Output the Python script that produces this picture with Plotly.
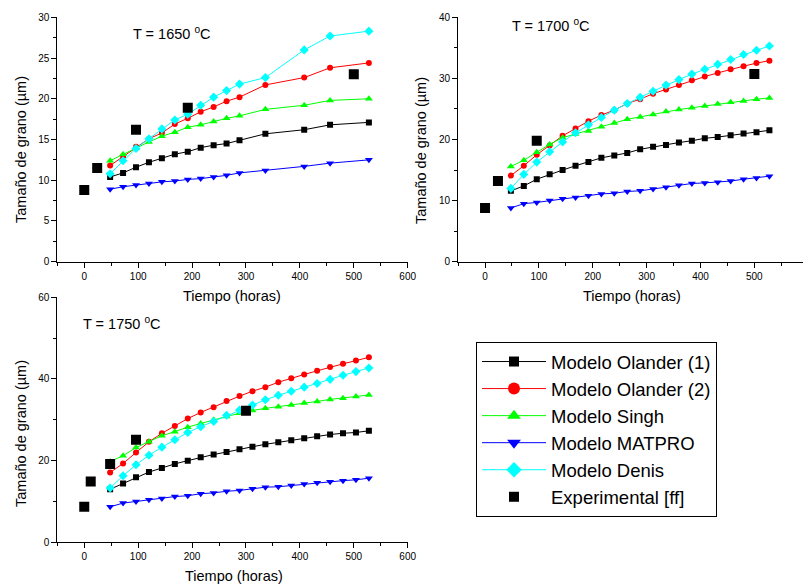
import plotly.graph_objects as go

# ---------------- data ----------------
t_1650 = [48, 72, 96, 120, 144, 168, 192, 216, 240, 264, 288, 336, 408, 456, 528]
olander1_1650 = [10.4, 10.9, 11.6, 12.2, 12.7, 13.2, 13.5, 14.0, 14.3, 14.5, 14.9, 15.7, 16.2, 16.8, 17.1]
olander2_1650 = [11.8, 12.9, 14.1, 15.1, 15.8, 16.9, 17.6, 18.4, 19.0, 19.7, 20.2, 21.7, 22.6, 23.8, 24.4]
singh_1650 = [12.4, 13.2, 14.0, 14.7, 15.4, 15.9, 16.5, 16.8, 17.2, 17.6, 17.9, 18.7, 19.2, 19.8, 20.0]
matpro_1650 = [8.9, 9.2, 9.4, 9.6, 9.8, 9.9, 10.1, 10.2, 10.4, 10.6, 10.9, 11.2, 11.7, 12.1, 12.5]
denis_1650 = [10.8, 12.4, 13.9, 15.1, 16.3, 17.4, 18.1, 19.2, 20.2, 21.0, 21.8, 22.6, 26.0, 27.7, 28.3]
exp_t_1650 = [0, 24, 96, 192, 500]
exp_1650 = [8.8, 11.5, 16.2, 18.9, 23.0]

t_1700 = [48, 72, 96, 120, 144, 168, 192, 216, 240, 264, 288, 312, 336, 360, 384, 408, 432, 456, 480, 504, 528]
olander1_1700 = [11.6, 12.4, 13.5, 14.3, 15.0, 15.7, 16.3, 17.0, 17.4, 17.8, 18.4, 18.8, 19.1, 19.5, 19.8, 20.2, 20.4, 20.7, 21.0, 21.2, 21.5]
olander2_1700 = [14.1, 15.7, 17.5, 19.0, 20.6, 21.8, 23.0, 24.0, 24.8, 25.9, 26.6, 27.5, 28.2, 28.9, 29.7, 30.3, 30.9, 31.5, 32.0, 32.5, 32.9]
singh_1700 = [15.6, 16.6, 17.9, 19.2, 20.3, 20.9, 21.4, 22.1, 22.7, 23.3, 23.7, 24.1, 24.6, 24.9, 25.2, 25.5, 25.8, 26.1, 26.3, 26.6, 26.8]
matpro_1700 = [8.8, 9.5, 9.7, 10.0, 10.3, 10.5, 10.8, 11.1, 11.2, 11.5, 11.6, 11.9, 12.2, 12.5, 12.8, 12.9, 13.0, 13.2, 13.5, 13.7, 14.0]
denis_1700 = [12.0, 14.3, 16.3, 18.0, 19.6, 21.1, 22.4, 23.6, 24.8, 25.9, 26.9, 27.9, 28.9, 29.8, 30.7, 31.5, 32.3, 33.1, 33.9, 34.6, 35.3]
exp_t_1700 = [0, 24, 96, 500]
exp_1700 = [8.8, 13.2, 19.8, 30.7]

t_1750 = [48, 72, 96, 120, 144, 168, 192, 216, 240, 264, 288, 312, 336, 360, 384, 408, 432, 456, 480, 504, 528]
olander1_1750 = [13.0, 14.4, 15.9, 17.2, 18.2, 19.2, 20.0, 20.8, 21.5, 22.1, 22.8, 23.4, 24.0, 24.5, 25.0, 25.5, 26.0, 26.4, 26.7, 26.9, 27.3]
olander2_1750 = [17.1, 19.3, 22.0, 24.6, 26.7, 28.5, 30.3, 31.8, 33.1, 34.6, 35.8, 37.0, 38.0, 39.2, 40.2, 41.1, 42.0, 42.9, 43.7, 44.5, 45.3]
singh_1750 = [19.8, 21.2, 23.2, 24.6, 26.1, 27.1, 28.2, 29.1, 30.0, 30.8, 31.6, 32.3, 32.8, 33.2, 33.6, 34.1, 34.5, 35.0, 35.3, 35.7, 36.1]
matpro_1750 = [8.7, 9.6, 10.0, 10.4, 10.7, 11.2, 11.4, 11.9, 12.1, 12.5, 12.7, 13.1, 13.5, 13.6, 13.9, 14.3, 14.6, 14.8, 15.1, 15.3, 15.7]
denis_1750 = [13.3, 16.3, 19.0, 21.3, 23.3, 25.1, 26.9, 28.3, 29.6, 31.1, 32.4, 33.6, 34.9, 36.0, 37.0, 38.0, 38.9, 39.9, 40.9, 41.8, 42.7]
exp_t_1750 = [0, 12, 48, 96, 300]
exp_1750 = [8.7, 14.9, 19.2, 25.1, 32.2]

series_names = ["Modelo Olander (1)", "Modelo Olander (2)", "Modelo Singh",
                "Modelo MATPRO", "Modelo Denis", "Experimental [ff]"]
temp_labels = ["T = 1650 <sup>o</sup>C", "T = 1700 <sup>o</sup>C", "T = 1750 <sup>o</sup>C"]
x_title = "Tiempo (horas)"
y_title = "Tamaño de grano (µm)"

# ---------------- styles ----------------
FONT = "Arial, Liberation Sans, sans-serif"
colors = ["#000000", "#FF0000", "#00FF00", "#0000FF", "#00FFFF"]
symbols = ["square", "circle", "triangle-up", "triangle-down", "diamond"]
msizes = [6, 6, 7, 7, 7]

panels = [
    (t_1650, [olander1_1650, olander2_1650, singh_1650, matpro_1650, denis_1650], exp_t_1650, exp_1650),
    (t_1700, [olander1_1700, olander2_1700, singh_1700, matpro_1700, denis_1700], exp_t_1700, exp_1700),
    (t_1750, [olander1_1750, olander2_1750, singh_1750, matpro_1750, denis_1750], exp_t_1750, exp_1750),
]

fig = go.Figure()
for p, (t, models, et, ev) in enumerate(panels):
    xa = "x" if p == 0 else f"x{p+1}"
    ya = "y" if p == 0 else f"y{p+1}"
    for i, vals in enumerate(models):
        fig.add_trace(go.Scatter(
            x=t, y=vals, mode="lines+markers", xaxis=xa, yaxis=ya,
            line=dict(color=colors[i], width=1),
            marker=dict(symbol=symbols[i], size=msizes[i], color=colors[i]),
            showlegend=False, name=series_names[i]))
    fig.add_trace(go.Scatter(
        x=et, y=ev, mode="markers", xaxis=xa, yaxis=ya,
        marker=dict(symbol="square", size=10, color="#000000"),
        showlegend=False, name=series_names[5]))

# legend entries (larger symbols like the original legend)
for i in range(5):
    fig.add_trace(go.Scatter(
        x=[None], y=[None], mode="lines+markers", name=series_names[i],
        line=dict(color=colors[i], width=1),
        marker=dict(symbol=symbols[i], size=12 if i else 10, color=colors[i])))
fig.add_trace(go.Scatter(
    x=[None], y=[None], mode="markers", name=series_names[5],
    marker=dict(symbol="square", size=10, color="#000000")))

TICKFONT = dict(size=10, color="black", family=FONT)

def xaxis(domain, anchor):
    return dict(domain=domain, anchor=anchor, range=[-50, 600], tick0=0, dtick=100,
                showline=True, linecolor="black", linewidth=1, ticks="outside",
                ticklen=5, tickwidth=1, tickcolor="black", showgrid=False, zeroline=False,
                tickfont=TICKFONT,
                minor=dict(ticks="outside", ticklen=3, dtick=50, tick0=0,
                           tickcolor="black", showgrid=False))

def yaxis(domain, anchor, top, dtick):
    return dict(domain=domain, anchor=anchor, range=[0, top], tick0=0, dtick=dtick,
                showline=True, linecolor="black", linewidth=1, ticks="outside",
                ticklen=5, tickwidth=1, tickcolor="black", showgrid=False, zeroline=False,
                tickfont=TICKFONT,
                minor=dict(ticks="outside", ticklen=3, dtick=dtick / 2, tick0=0,
                           tickcolor="black", showgrid=False))

# page body adds an 8px offset; figure is sized so that it fits the window
OFF = 8
W, H = 811 - OFF, 586 - OFF

def px(x):
    return (x - OFF) / W

def py(y):
    return 1 - (y - OFF) / H

def dx(a, b):
    return [px(a), px(b)]

def dy(top, bottom):
    return [py(bottom), py(top)]

TITLEFONT = dict(size=14.5, color="black", family=FONT)

def label(text, x, y, angle=0):
    return dict(text=text, x=px(x), y=py(y), xref="paper", yref="paper",
                showarrow=False, textangle=angle, xanchor="center", yanchor="middle",
                font=TITLEFONT)

fig.update_layout(
    width=W, height=H, template="none",
    paper_bgcolor="white", plot_bgcolor="white",
    margin=dict(l=0, r=0, t=0, b=0, autoexpand=False),
    font=dict(family=FONT, color="black"),
    xaxis=xaxis(dx(57.3, 407.7), "y"),
    yaxis=yaxis(dy(17.3, 261.7), "x", 30, 5),
    xaxis2=xaxis(dx(458.1, 808.2), "y2"),
    yaxis2=yaxis(dy(17.3, 261.7), "x2", 40, 10),
    xaxis3=xaxis(dx(57.3, 407.7), "y3"),
    yaxis3=yaxis(dy(297.3, 542.3), "x3", 60, 20),
    legend=dict(x=px(476), y=py(342), xanchor="left", yanchor="top",
                bordercolor="black", borderwidth=1, bgcolor="white",
                font=dict(size=18.5, color="black", family=FONT),
                itemwidth=64, tracegroupgap=0),
    annotations=[
        label(temp_labels[0], 172, 33),
        label(temp_labels[1], 551, 25),
        label(temp_labels[2], 122, 323),
        label(x_title, 232, 296),
        label(x_title, 632, 296),
        label(x_title, 234, 576),
        label(y_title, 21, 150, -90),
        label(y_title, 421, 150, -90),
        label(y_title, 21, 434, -90),
    ],
)

fig.write_html("out.html")
